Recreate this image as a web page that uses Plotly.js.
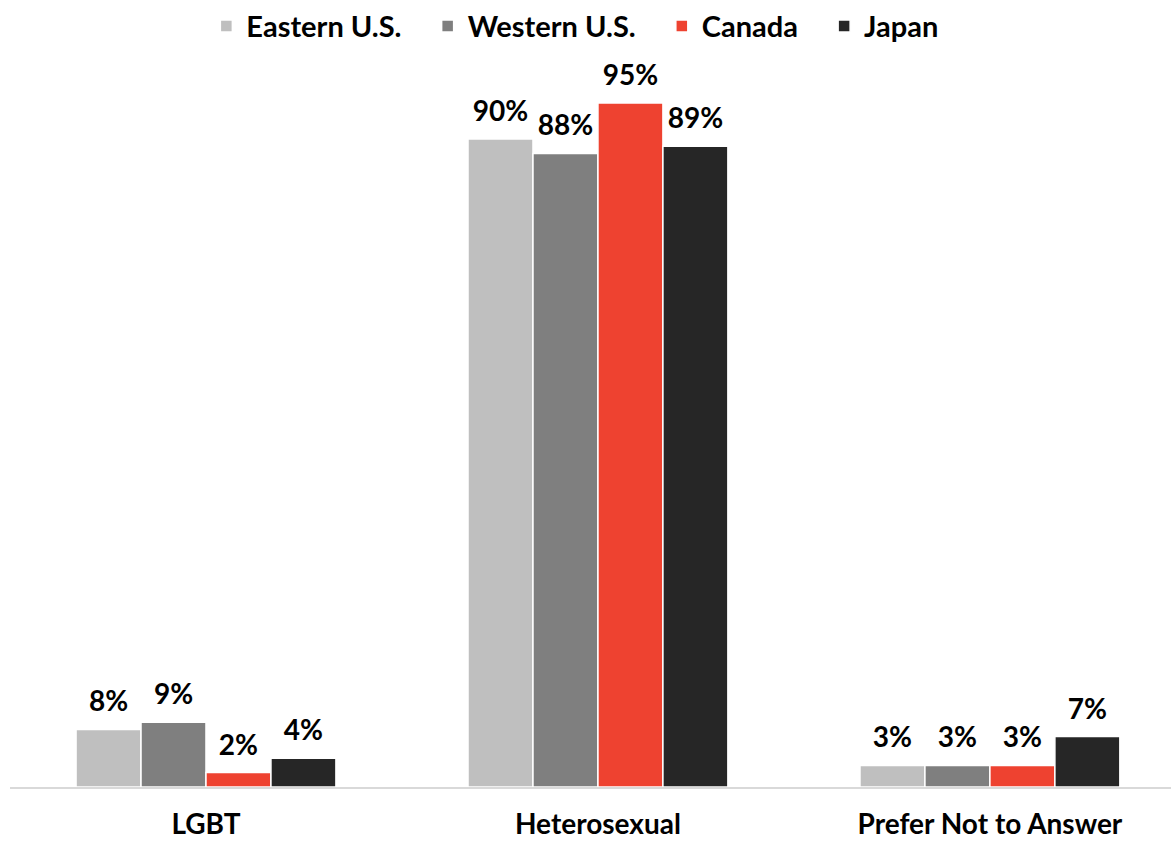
<!DOCTYPE html>
<html><head><meta charset="utf-8">
<script src="https://cdn.plot.ly/plotly-3.0.1.min.js"></script>
<style>html,body{margin:0;padding:0;background:#fff;}#c{width:1171px;height:842px;}</style>
</head><body><div id="c"></div>
<script>
const categories = ["LGBT", "Heterosexual", "Prefer Not to Answer"];
const seriesNames = ["Eastern U.S.", "Western U.S.", "Canada", "Japan"];
const easternUS = [8, 90, 3];
const westernUS = [9, 88, 3];
const canada = [2, 95, 3];
const japan = [4, 89, 7];
const colors = ["#bfbfbf", "#7f7f7f", "#ee4230", "#262626"];
const FONT = "Lato, 'Open Sans', sans-serif";
const allSeries = [easternUS, westernUS, canada, japan];
const traces = allSeries.map((vals, i) => ({
  type: "bar",
  name: seriesNames[i] + "\u00a0\u00a0\u00a0",
  x: categories,
  y: vals,
  marker: {color: colors[i], line: {color: "#ffffff", width: 1.5}},
  text: vals.map(v => v + "%"),
  texttemplate: "<span style='font-size:28px'>%{text}</span><br> ",
  textposition: "outside",
  constraintext: "none",
  textfont: {family: FONT, size: 10, color: "#000", weight: "bold"},
  cliponaxis: false,
  hoverinfo: "none"
}));
const layout = {
  width: 1171, height: 842,
  margin: {l: 10, r: 0, t: 60, b: 55},
  barmode: "group",
  bargap: 0.337,
  bargroupgap: 0,
  paper_bgcolor: "#fff",
  plot_bgcolor: "#fff",
  showlegend: true,
  legend: {orientation: "h", x: 0.496, xanchor: "center", y: 1.0815, yref: "paper", yanchor: "top",
    font: {family: FONT, size: 29, color: "#000", weight: "bold"}, itemwidth: 30, traceorder: "normal"},
  xaxis: {range: [-0.5, 2.462], showline: true, linecolor: "#d9d9d9", linewidth: 1.5, ticks: "",
    ticklabelstandoff: 12,
    tickfont: {family: FONT, size: 28, color: "#000", weight: "bold"}, showgrid: false, zeroline: false, fixedrange: true},
  yaxis: {range: [0, 100.97], visible: false, showgrid: false, zeroline: false}
};
Plotly.newPlot("c", traces, layout, {displayModeBar: false, staticPlot: true});
</script></body></html>
